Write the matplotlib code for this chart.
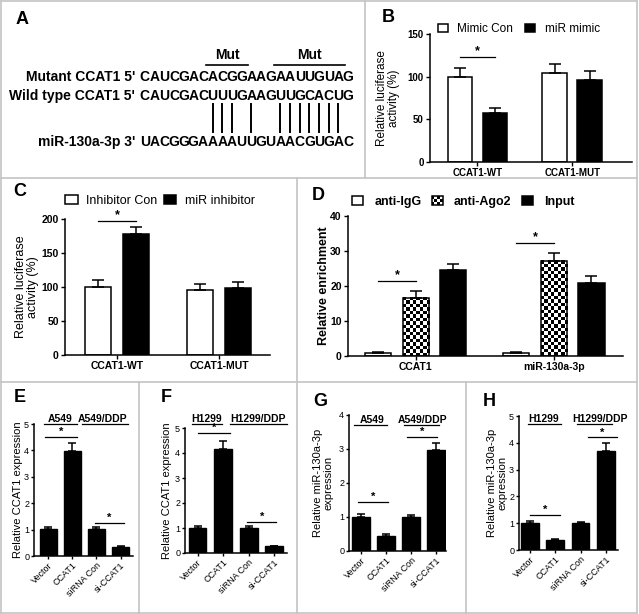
import numpy as np
import matplotlib
matplotlib.use('Agg')
import matplotlib.pyplot as plt
from matplotlib.lines import Line2D
from matplotlib.patches import Rectangle
from matplotlib.legend_handler import HandlerBase

plt.rcParams['font.family'] = ['Liberation Sans', 'DejaVu Sans']

# ---- data ----
luc_groups = ['CCAT1-WT', 'CCAT1-MUT']
mimic_con = [100, 104]
mimic_con_err = [10, 11]
mir_mimic = [57, 96]
mir_mimic_err = [6, 11]

inhib_con = [100, 96]
inhib_con_err = [10, 8]
mir_inhib = [178, 99]
mir_inhib_err = [10, 8]

rip_groups = ['CCAT1', 'miR-130a-3p']
anti_igg = [1.0, 1.0]
anti_igg_err = [0.1, 0.1]
anti_ago2 = [16.6, 27.2]
anti_ago2_err = [1.9, 2.1]
input_rip = [24.5, 20.8]
input_rip_err = [1.9, 2.2]

conditions = ['Vector', 'CCAT1', 'siRNA Con', 'si-CCAT1']
ccat1_a549 = [1.02, 3.98, 1.02, 0.35]
ccat1_a549_err = [0.07, 0.30, 0.06, 0.03]
ccat1_h1299 = [1.02, 4.15, 1.02, 0.28]
ccat1_h1299_err = [0.07, 0.32, 0.07, 0.02]
mir_a549 = [1.0, 0.45, 1.0, 2.97]
mir_a549_err = [0.08, 0.05, 0.07, 0.22]
mir_h1299 = [1.0, 0.38, 1.0, 3.70]
mir_h1299_err = [0.09, 0.04, 0.06, 0.31]

mutant_seq = 'CAUCGACACGGAAGAAUUGUAG'
wild_seq = 'CAUCGACUUUGAAGUUGCACUG'
mir_seq = 'UACGGGAAAAUUGUAACGUGAC'
paired = [7, 8, 9, 11, 14, 15, 16, 17, 18, 19, 20]

W, H = 639, 614
fig = plt.figure(figsize=(W / 100, H / 100), dpi=100)


def box(x0, y0, x1, y1):
    return [x0 / W, 1 - y1 / H, (x1 - x0) / W, (y1 - y0) / H]


def fx(x):
    return x / W


def fy(y):
    return 1 - y / H


def style_axis(ax, tick_size, bold=True, ticklen=3, pad=1.5):
    for s in ['top', 'right']:
        ax.spines[s].set_visible(False)
    for s in ['left', 'bottom']:
        ax.spines[s].set_linewidth(1.1)
    ax.tick_params(direction='out', length=ticklen, width=1, labelsize=tick_size, pad=pad)
    if bold:
        for lab in ax.get_yticklabels() + ax.get_xticklabels():
            lab.set_fontweight('bold')


def place_ylabel(ax, x0, w, right_px):
    # right edge of the rotated label sits at right_px (pixel column)
    ax.yaxis.set_label_coords((right_px - x0) / w, 0.5)


def up_err(ax, x, y, e, cap):
    ax.errorbar(x, y, yerr=[np.zeros(len(e)), e], fmt='none', ecolor='black',
                elinewidth=1.1, capsize=cap, capthick=1.1, zorder=4)


def sig(ax, x0, x1, y, size=9):
    ax.plot([x0, x1], [y, y], color='black', lw=0.9, clip_on=False)
    ax.text((x0 + x1) / 2, y, '*', ha='center', va='bottom', fontsize=size,
            fontweight='bold')


def checker_bar(ax, x, h, w, cell=3.5):
    # checkerboard fill for the anti-Ago2 bars
    p0 = ax.transData.transform((x - w / 2, 0))
    p1 = ax.transData.transform((x + w / 2, h))
    nx = max(1, int(round((p1[0] - p0[0]) / cell)))
    ny = max(1, int(round((p1[1] - p0[1]) / cell)))
    board = np.indices((ny, nx)).sum(axis=0) % 2
    ax.imshow(board, cmap='gray', extent=(x - w / 2, x + w / 2, 0, h),
              aspect='auto', interpolation='nearest', origin='lower', zorder=1.5)


class CheckerHandler(HandlerBase):
    def create_artists(self, legend, orig_handle, xdescent, ydescent, width,
                       height, fontsize, trans):
        arts = []
        n = 4
        cw, ch = width / n, height / 3
        for i in range(n):
            for j in range(3):
                if (i + j) % 2 == 0:
                    arts.append(Rectangle((-xdescent + i * cw, -ydescent + j * ch), cw, ch,
                                          facecolor='black', edgecolor='none',
                                          transform=trans))
        arts.append(Rectangle((-xdescent, -ydescent), width, height, facecolor='none',
                              edgecolor='black', lw=1.1, transform=trans))
        return arts


# ---- panel borders ----
border = '#c4c4c4'
for (x0, y0, x1, y1) in [(0.5, 0.5, 637, 0.5), (0.5, 0.5, 0.5, 613), (637, 0.5, 637, 613),
                         (0.5, 613, 637, 613), (0, 178, 637, 178), (0, 382, 637, 382),
                         (365, 0, 365, 178), (297, 178, 297, 614), (139, 382, 139, 614),
                         (466, 382, 466, 614)]:
    fig.add_artist(Line2D([fx(x0), fx(x1)], [fy(y0), fy(y1)], color=border, lw=1.2,
                          transform=fig.transFigure))

# ---- panel letters ----
for lab, (x, y) in {'A': (22, 20), 'B': (388, 18), 'C': (20, 192), 'D': (318, 196),
                    'E': (20, 398), 'F': (166, 398), 'G': (320, 401), 'H': (489, 401)}.items():
    fig.text(fx(x), fy(y), lab, ha='center', va='center', fontsize=13, fontweight='bold')

# ---- panel A: sequences ----
seq_x0, seq_w = 140, 9.68
rows = [('Mutant CCAT1 5\'', mutant_seq, 77), ('Wild type CCAT1 5\'', wild_seq, 96),
        ('miR-130a-3p 3\'', mir_seq, 142)]
for prefix, seq, y in rows:
    fig.text(fx(135), fy(y), prefix, ha='right', va='center', fontsize=10, fontweight='bold')
    for i, ch in enumerate(seq):
        fig.text(fx(seq_x0 + (i + 0.5) * seq_w), fy(y), ch, ha='center', va='center',
                 fontsize=10, fontweight='bold')
for i in paired:
    xx = fx(seq_x0 + (i + 0.5) * seq_w)
    fig.add_artist(Line2D([xx, xx], [fy(104), fy(132)], color='black', lw=1.4,
                          transform=fig.transFigure))
for i0, i1 in [(7, 10), (14, 20)]:
    xa = seq_x0 + i0 * seq_w - 2
    xb = seq_x0 + (i1 + 1) * seq_w + 2
    fig.add_artist(Line2D([fx(xa), fx(xb)], [fy(65), fy(65)], color='black', lw=1.2,
                          transform=fig.transFigure))
    fig.text(fx((xa + xb) / 2), fy(55), 'Mut', ha='center', va='center', fontsize=10,
             fontweight='bold')

# ---- panel B ----
axB = fig.add_axes(box(430, 34, 632, 162))
xg = np.arange(2)
off, bw = 0.185, 0.26
bB1 = axB.bar(xg - off, mimic_con, bw, facecolor='white', edgecolor='black', lw=1.1, zorder=2)
bB2 = axB.bar(xg + off, mir_mimic, bw, facecolor='black', edgecolor='black', lw=1.1, zorder=2)
up_err(axB, xg - off, mimic_con, mimic_con_err, 4)
up_err(axB, xg + off, mir_mimic, mir_mimic_err, 4)
axB.set_xlim(-0.5, 1.63)
axB.set_ylim(0, 150)
axB.set_yticks([0, 50, 100, 150])
axB.set_xticks(xg)
axB.set_xticklabels(luc_groups)
style_axis(axB, 7)
axB.set_ylabel('Relative luciferase\nactivity (%)', fontsize=8.5, linespacing=1.0)
place_ylabel(axB, 430, 202, 400)
sig(axB, -off, off, 123)
axB.legend([bB1, bB2], ['Mimic Con', 'miR mimic'], ncol=2, loc='center left',
           bbox_to_anchor=(fx(438), fy(29)), bbox_transform=fig.transFigure,
           frameon=False, fontsize=8.5, handlelength=0.85, handleheight=0.75,
           handletextpad=0.8, columnspacing=1.0, borderpad=0, borderaxespad=0)

# ---- panel C ----
axC = fig.add_axes(box(65, 219, 270, 355))
off, bw = 0.19, 0.255
bC1 = axC.bar(xg - off, inhib_con, bw, facecolor='white', edgecolor='black', lw=1.1, zorder=2)
bC2 = axC.bar(xg + off, mir_inhib, bw, facecolor='black', edgecolor='black', lw=1.1, zorder=2)
up_err(axC, xg - off, inhib_con, inhib_con_err, 4)
up_err(axC, xg + off, mir_inhib, mir_inhib_err, 4)
axC.set_xlim(-0.51, 1.5)
axC.set_ylim(0, 200)
axC.set_yticks([0, 50, 100, 150, 200])
axC.set_xticks(xg)
axC.set_xticklabels(luc_groups)
style_axis(axC, 7.5)
axC.set_ylabel('Relative luciferase\nactivity (%)', fontsize=9, linespacing=1.0)
place_ylabel(axC, 65, 205, 39)
sig(axC, -off, off, 197)
axC.legend([bC1, bC2], ['Inhibitor Con', 'miR inhibitor'], ncol=2, loc='center left',
           bbox_to_anchor=(fx(65), fy(201)), bbox_transform=fig.transFigure,
           frameon=False, fontsize=9, handlelength=1.0, handleheight=0.75,
           handletextpad=0.7, columnspacing=0.5, borderpad=0, borderaxespad=0)

# ---- panel D ----
axD = fig.add_axes(box(348, 216, 623, 356))
offD, bwD = 0.272, 0.19
axD.set_xlim(-0.49, 1.5)
axD.set_ylim(0, 40)
bD1 = axD.bar(xg - offD, anti_igg, bwD, facecolor='white', edgecolor='black', lw=1.1, zorder=2)
bD2 = axD.bar(xg, anti_ago2, bwD, facecolor='none', edgecolor='black', lw=1.1, zorder=2)
bD3 = axD.bar(xg + offD, input_rip, bwD, facecolor='black', edgecolor='black', lw=1.1, zorder=2)
for x, h in zip(xg, anti_ago2):
    checker_bar(axD, x, h, bwD)
up_err(axD, xg - offD, anti_igg, anti_igg_err, 4)
up_err(axD, xg, anti_ago2, anti_ago2_err, 4)
up_err(axD, xg + offD, input_rip, input_rip_err, 4)
axD.set_xlim(-0.49, 1.5)
axD.set_ylim(0, 40)
axD.set_yticks([0, 10, 20, 30, 40])
axD.set_xticks(xg)
axD.set_xticklabels(rip_groups)
style_axis(axD, 7.5)
axD.set_ylabel('Relative enrichment', fontsize=9, fontweight='bold')
place_ylabel(axD, 348, 275, 330)
sig(axD, -offD, 0, 21.4)
sig(axD, 1 - offD, 1, 32.3)
axD.legend([bD1, bD2, bD3], ['anti-IgG', 'anti-Ago2', 'Input'], ncol=3, loc='center left',
           bbox_to_anchor=(fx(352), fy(202)), bbox_transform=fig.transFigure,
           handler_map={bD2: CheckerHandler()},
           frameon=False, prop={'size': 9, 'weight': 'bold'}, handlelength=0.9,
           handleheight=0.75, handletextpad=0.9, columnspacing=0.8, borderpad=0,
           borderaxespad=0)

# ---- panels E-H ----
xc = np.arange(4)
small = [
    ((34, 424, 133, 556), ccat1_a549, ccat1_a549_err, 5, (-0.6, 3.52), 'Relative CCAT1 expression',
     23, ('A549', 'A549/DDP'), 5.0, [(-0.2, 1.2), (1.4, 3.3)], [0.5, 2.27],
     (-0.15, 1.2, 4.5), (1.94, 3.15, 1.25)),
    ((185, 428, 287, 553), ccat1_h1299, ccat1_h1299_err, 5, (-0.49, 3.5), 'Relative CCAT1 expression',
     172, ('H1299', 'H1299/DDP'), 5.16, [(-0.2, 0.96), (1.27, 3.5)], [0.37, 2.37],
     (0.0, 1.27, 4.8), (1.94, 3.08, 1.25)),
    ((349, 415, 446, 551), mir_a549, mir_a549_err, 4, (-0.48, 3.4), 'Relative miR-130a-3p\nexpression',
     333, ('A549', 'A549/DDP'), 3.7, [(-0.3, 1.05), (1.7, 3.1)], [0.44, 2.48],
     (-0.12, 1.08, 1.44), (1.84, 3.04, 3.35)),
    ((519, 416, 618, 550), mir_h1299, mir_h1299_err, 5, (-0.43, 3.48), 'Relative miR-130a-3p\nexpression',
     507, ('H1299', 'H1299/DDP'), 4.7, [(-0.08, 1.22), (1.86, 3.24)], [0.55, 2.75],
     (0.0, 1.19, 1.3), (2.3, 3.44, 4.2)),
]
for (px, vals, errs, ymax, xl, ylab, lab_x, heads, head_y, head_spans, head_x,
     sig_left, sig_right) in small:
    ax = fig.add_axes(box(*px))
    ax.bar(xc, vals, 0.7, facecolor='black', edgecolor='black', lw=1, zorder=2)
    up_err(ax, xc, vals, errs, 3)
    ax.set_xlim(*xl)
    ax.set_ylim(0, ymax)
    ax.set_yticks(np.arange(ymax + 1))
    ax.set_xticks(xc)
    ax.set_xticklabels(conditions, rotation=45, ha='right', rotation_mode='anchor')
    style_axis(ax, 6.5, bold=False, ticklen=2.5, pad=1)
    ax.set_ylabel(ylab, fontsize=8, linespacing=1.0)
    place_ylabel(ax, px[0], px[2] - px[0], lab_x)
    for (a, b), tx, name in zip(head_spans, head_x, heads):
        ax.plot([a, b], [head_y, head_y], color='black', lw=0.9, clip_on=False)
        ax.text(tx, head_y, name, ha='center', va='bottom', fontsize=7.5, fontweight='bold')
    sig(ax, *sig_left, size=8)
    sig(ax, *sig_right, size=8)

fig.savefig('out.png', dpi=100)
